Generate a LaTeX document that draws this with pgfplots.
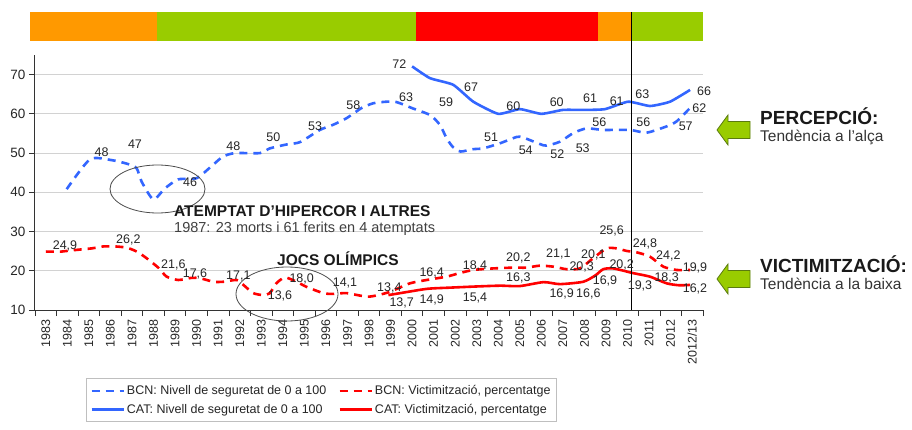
\documentclass[border=0pt]{standalone}
\usepackage{pgfplots}
\pgfplotsset{compat=1.18}
\usepackage{fontspec}
\setmainfont{Liberation Sans}
\definecolor{cblue}{HTML}{3366FF}
\definecolor{cred}{HTML}{FF0000}
\definecolor{borange}{HTML}{FF9900}
\definecolor{bgreen}{HTML}{99CC00}
\definecolor{bred}{HTML}{FF0000}
\definecolor{adark}{HTML}{5A7A10}
\definecolor{txt}{HTML}{262626}
\newcommand{\dl}[3]{\node[font=\fontsize{12.5}{14}\selectfont,inner sep=0pt,text=txt] at (#1pt,-#2pt) {#3};}
\begin{document}
\begin{tikzpicture}
\useasboundingbox (0pt,0pt) rectangle (912pt,-430pt);
% top band
\fill[borange] (30pt,-12pt) rectangle (157pt,-41pt);
\fill[bgreen] (157pt,-12pt) rectangle (416pt,-41pt);
\fill[bred] (416pt,-12pt) rectangle (598pt,-41pt);
\fill[borange] (598pt,-12pt) rectangle (631pt,-41pt);
\fill[bgreen] (631pt,-12pt) rectangle (703pt,-41pt);
\begin{axis}[
  at={(35pt,-310pt)}, anchor=south west,
  width=668pt, height=255pt, scale only axis,
  xmin=-0.5, xmax=30.5, ymin=10, ymax=75,
  axis x line*=bottom, axis y line*=left,
  axis line style={black!80, line width=1pt},
  xtick={0,...,30},
  xticklabels={1983,1984,1985,1986,1987,1988,1989,1990,1991,1992,1993,1994,1995,1996,1997,1998,1999,2000,2001,2002,2003,2004,2005,2006,2007,2008,2009,2010,2011,2012,2012/13},
  major x tick style={draw=none},
  minor xtick={-0.5,0.5,...,30.5},
  minor x tick style={black!80, line width=0.8pt},
  tick align=outside, minor tick length=6pt, major tick length=6pt,
  ytick={10,20,30,40,50,60,70},
  major y tick style={black!80, line width=0.8pt},
  ymajorgrids, grid style={gray!35, line width=0.9pt},
  xticklabel style={rotate=90, anchor=east, font=\fontsize{12.5}{14}\selectfont, text=txt},
  yticklabel style={font=\fontsize{13.5}{14}\selectfont, text=txt},
  /pgf/number format/assume math mode=true,
  clip=false,
  legend columns=2,
  legend cell align=left,
  legend style={at={(0.0763,-0.267)}, anchor=north west, draw=black!25, line width=0.8pt,
    font=\fontsize{12.5}{14}\selectfont, text=txt, inner xsep=4pt, inner ysep=5pt, row sep=4pt,
    /tikz/every even column/.append style={column sep=10pt}},
  legend image code/.code={\draw[#1] (0pt,0pt) -- (32pt,0pt);},
]
% BCN perception (dashed blue)
\addplot[cblue, line width=2.6pt, dash pattern=on 8pt off 6pt, smooth, tension=0.4] coordinates {
(0.97,40.8) (2.05,48.4) (3.06,48.2) (3.82,47.2) (4.22,46.1) (4.45,42.7) (4.99,38.2) (5.53,41) (6.15,43.3) (7.0,43.6) (7.76,47) (8.22,49.1) (8.78,50) (9.94,50) (10.4,51.2) (11.18,52.2) (11.8,52.8) (12.72,55.9) (13.33,57.2) (13.96,58.9) (14.66,61.5) (15.2,62.7) (15.82,63.1) (16.28,63) (16.98,61.5) (17.83,59.7) (18.29,57.2) (18.6,53.8) (18.9,51.5) (19.25,50.4) (19.84,51) (20.3,51.2) (21.08,52.5) (21.85,54.1) (22.14,54) (22.93,52.3) (23.24,51.9) (23.86,52.9) (24.48,55.1) (25.1,56.3) (25.87,55.9) (27.11,55.9) (27.88,55.2) (28.81,56.8) (29.28,58.1) (29.9,61.5)
};
\addlegendentry{BCN: Nivell de seguretat de 0 a 100}
% BCN victimization (dashed red)
\addplot[cred, line width=2.6pt, dash pattern=on 8pt off 6pt, smooth, tension=0.4] coordinates {
(0,24.9) (0.74,24.9) (0.97,25.05) (1.74,25.5) (2.13,25.7) (2.67,26.2) (3.21,26.2) (3.75,25.9) (4.22,24.9) (4.68,23.2) (5.22,20.8) (5.61,18.5) (6.15,17.65) (6.77,18.2) (7.16,18.1) (7.78,17.2) (8.24,17.2) (8.86,17.65) (9.17,16.4) (9.63,14.3) (10.1,13.8) (10.4,14.3) (10.7,16.8) (11.1,18.3) (11.64,17.2) (12.1,15.9) (12.88,14.3) (13.34,14.1) (13.96,14.3) (14.97,13.4) (15.9,14.5) (16.9,16.8) (17.68,17.65) (18.6,18.5) (19.2,19.4) (19.84,20.2) (20.77,20.6) (21.7,20.8) (22.3,20.8) (22.93,21.3) (23.55,21.05) (24.17,20.4) (24.79,20.6) (25.4,23.2) (26.03,25.7) (26.5,25.7) (26.96,25.05) (27.42,24.7) (28.04,23.6) (28.66,21.05) (29.28,20.2) (29.9,20.2)
};
\addlegendentry{BCN: Victimització, percentatge}
% CAT perception (solid blue)
\addplot[cblue, line width=2.6pt, smooth, tension=0.3] coordinates {
(17,72.1) (17.83,69.1) (18.91,67.4) (19.84,63.1) (21,60) (22,61.2) (23,60) (24,61) (25,61) (25.95,61.2) (27.03,63.1) (28.04,62) (28.97,63.1) (29.9,66.1)
};
\addlegendentry{CAT: Nivell de seguretat de 0 a 100}
% CAT victimization (solid red)
\addplot[cred, line width=2.6pt, smooth, tension=0.4] coordinates {
(15.9,13.8) (16.45,14.3) (17.7,15.4) (18.76,15.7) (20,16) (21.08,16.2) (22,16.1) (23.1,17.1) (23.86,16.6) (24.94,17.2) (25.5,18.8) (25.87,20.4) (26.34,20.6) (27.26,19.4) (28.04,18.5) (28.81,16.8) (29.4,16.3) (29.9,16.4)
};
\addlegendentry{CAT: Victimització, percentatge}
\end{axis}
% vertical 2010 line
\draw[black, line width=1pt] (631pt,-12pt) -- (631pt,-310pt);
% ellipses
\draw[black!70, line width=0.8pt] (157.5pt,-189pt) ellipse [x radius=47.5pt, y radius=24pt];
\draw[black!70, line width=0.8pt] (287pt,-294pt) ellipse [x radius=51pt, y radius=27pt];
% data labels: BCN perception
\dl{101.7}{152.3}{48}\dl{135}{144}{47}\dl{190}{181.7}{46}\dl{233.3}{145.7}{48}
\dl{273.3}{136.7}{50}\dl{315}{126}{53}\dl{353.3}{105}{58}\dl{406}{96.7}{63}
\dl{446}{102.3}{59}\dl{491}{137.3}{51}\dl{525.7}{150}{54}\dl{557.3}{154}{52}
\dl{582.7}{148.3}{53}\dl{599.3}{122.3}{56}\dl{643.3}{122.3}{56}\dl{685.7}{126.7}{57}
\dl{699.3}{108.3}{62}
% CAT perception
\dl{399.3}{64.3}{72}\dl{471}{87.7}{67}\dl{513.3}{106}{60}\dl{556.7}{101.7}{60}
\dl{590}{98.3}{61}\dl{616.7}{101}{61}\dl{642.3}{94.3}{63}\dl{704}{91}{66}
% BCN victimization
\dl{65}{245.7}{24,9}\dl{128.3}{240}{26,2}\dl{173.3}{265}{21,6}\dl{195}{274}{17,6}
\dl{238.3}{276}{17,1}\dl{280}{296}{13,6}\dl{301.7}{279}{18,0}\dl{345}{283.3}{14,1}
\dl{389.3}{287.7}{13,4}\dl{431.7}{273.3}{16,4}\dl{475}{266}{18,4}\dl{518.3}{258.3}{20,2}
\dl{558.3}{254.3}{21,1}\dl{581.7}{266.7}{20,3}\dl{593.3}{255}{20,1}\dl{611.7}{231}{25,6}
\dl{645}{244}{24,8}\dl{668.3}{255.7}{24,2}\dl{695}{268.3}{19,9}
% CAT victimization
\dl{401.7}{303.3}{13,7}\dl{431.7}{300}{14,9}\dl{475}{298.3}{15,4}\dl{518.3}{278.3}{16,3}
\dl{561.7}{294.3}{16,9}\dl{588.3}{294.3}{16,6}\dl{605}{281}{16,9}\dl{621.7}{265}{20,2}
\dl{640}{286}{19,3}\dl{666.7}{277.7}{18,3}\dl{695}{289.3}{16,2}
% annotations
\node[anchor=west, inner sep=0pt, font=\bfseries\fontsize{15.5}{17}\selectfont, text=black!90] at (174pt,-211pt) {ATEMPTAT D’HIPERCOR I ALTRES};
\node[anchor=west, inner sep=0pt, font=\fontsize{14.5}{16}\selectfont, text=black!75] at (174pt,-229pt) {1987: 23 morts i 61 ferits en 4 atemptats};
\node[anchor=west, inner sep=0pt, font=\bfseries\fontsize{15.5}{17}\selectfont, text=black!90] at (277pt,-259pt) {JOCS OLÍMPICS};
% arrows
\filldraw[fill=bgreen, draw=adark, line width=0.8pt] (717pt,-130pt) -- (728pt,-115pt) -- (728pt,-121.5pt) -- (750pt,-121.5pt) -- (750pt,-138.5pt) -- (728pt,-138.5pt) -- (728pt,-145pt) -- cycle;
\filldraw[fill=bgreen, draw=adark, line width=0.8pt] (717pt,-279pt) -- (728pt,-264pt) -- (728pt,-270.5pt) -- (750pt,-270.5pt) -- (750pt,-287.5pt) -- (728pt,-287.5pt) -- (728pt,-294pt) -- cycle;
\node[anchor=west, inner sep=0pt, font=\bfseries\fontsize{19}{21}\selectfont, text=black!90] at (760pt,-116pt) {PERCEPCIÓ:};
\node[anchor=west, inner sep=0pt, font=\fontsize{15.5}{17}\selectfont, text=black!80] at (760pt,-137pt) {Tendència a l’alça};
\node[anchor=west, inner sep=0pt, font=\bfseries\fontsize{19}{21}\selectfont, text=black!90] at (760pt,-264pt) {VICTIMITZACIÓ:};
\node[anchor=west, inner sep=0pt, font=\fontsize{15.5}{17}\selectfont, text=black!80] at (760pt,-284pt) {Tendència a la baixa};
\end{tikzpicture}
\end{document}
